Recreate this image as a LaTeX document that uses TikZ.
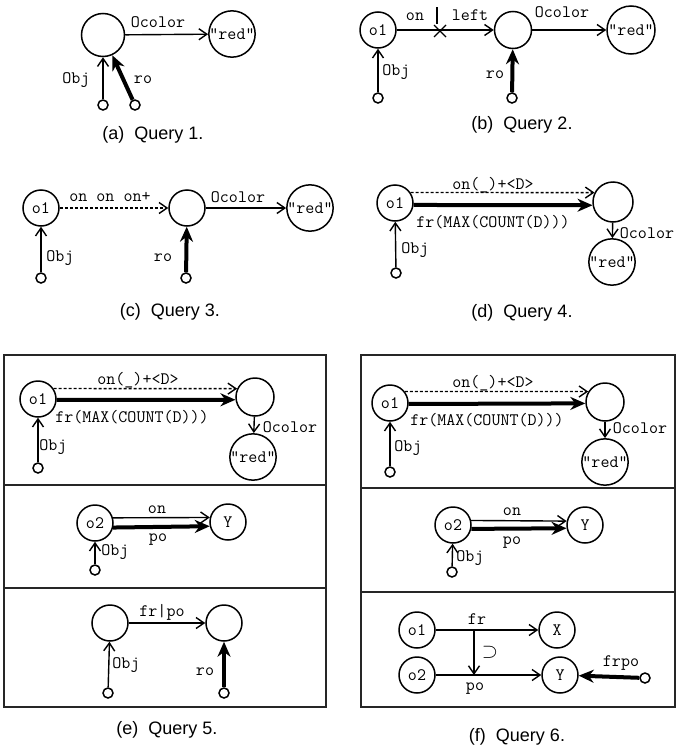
\documentclass[tikz,border=0pt]{standalone}
\usepackage{fontspec}
\setmainfont{Liberation Sans}
\usetikzlibrary{arrows.meta}

\begin{document}
\begin{tikzpicture}[x=1pt,y=-1pt,
  >={Straight Barb[length=8pt,width=11pt]},
  every node/.style={font=\fontsize{17.5}{17.5}\selectfont\ttfamily,inner sep=1pt},
  obj/.style={draw,circle,line width=1.5pt,minimum size=36pt,inner sep=0pt},
  val/.style={draw,circle,line width=1.5pt,minimum size=46pt,inner sep=0pt},
  dot/.style={draw,circle,line width=1.5pt,minimum size=10pt,inner sep=0pt},
  subcap/.style={font=\fontsize{18}{20}\selectfont\rmfamily},
  rel/.style={->,line width=1.4pt},
  trans/.style={->,line width=1.4pt,dashed,dash pattern=on 3pt off 2pt},
  heavy/.style={-{Stealth[length=15pt,width=13pt]},line width=4pt},
  frame/.style={line width=1.2pt,black!85}
]
\useasboundingbox (0,0) rectangle (679,747);

% (a)
\node[obj,minimum size=43pt] (ca) at (103,35) {};
\node[val] (reda) at (232,34) {"red"};
\node[dot] (sa1) at (103,105) {};
\node[dot] (sa2) at (135,105) {};
\draw[rel] (ca) -- (reda);
\draw[rel] (sa1) -- (ca);
\draw[heavy] (sa2) -- (ca);
\node (oca) at (158,22) {Ocolor};
\node (oba) at (76,80) {Obj};
\node (roa) at (143,80) {ro};
\node[subcap] (capa) at (153,135) {(a)~~Query 1.};

% (b)
\node[obj] (o1b) at (378,30) {o1};
\node[obj,minimum size=37pt] (mb) at (513,30) {};
\node[val,minimum size=48pt] (redb) at (631,30) {"red"};
\node[dot] (sb1) at (378,98) {};
\node[dot] (sb2) at (512,98) {};
\coordinate (xb) at (440,31);
\coordinate (tb1) at (437,7);
\coordinate (tb2) at (437,24);
\draw[rel] (o1b) -- (mb);
\draw[line width=1.3pt] (xb) +(-6,-6) -- +(6,6) (xb) +(-6,6) -- +(6,-6);
\draw[line width=1.1pt] (tb1) -- (tb2);
\draw[rel] (mb) -- (redb);
\draw[rel] (sb1) -- (o1b);
\draw[heavy] (sb2) -- (mb);
\node (onb) at (415,17) {on};
\node (lfb) at (470,15) {left};
\node (ocb) at (562,12) {Ocolor};
\node (obb) at (396,72) {Obj};
\node (rob) at (495,75) {ro};
\node[subcap] (capb) at (522,125) {(b)~~Query 2.};

% (c)
\node[obj] (o1c) at (41,208) {o1};
\node[obj] (mc) at (187,208) {};
\node[val] (redc) at (310,208) {"red"};
\node[dot] (sc1) at (41,278) {};
\node[dot] (sc2) at (186,278) {};
\draw[trans] (o1c) -- (mc);
\draw[rel] (mc) -- (redc);
\draw[rel] (sc1) -- (o1c);
\draw[heavy] (sc2) -- (mc);
\node (onc) at (110,197) {on on on+};
\node (occ) at (238,197) {Ocolor};
\node (obc) at (60,258) {Obj};
\node (roc) at (163,258) {ro};
\node[subcap] (capc) at (170,312) {(c)~~Query 3.};

% (d)
\node[obj] (o1d) at (395,203) {o1};
\node[obj,minimum size=40pt] (md) at (613,202) {};
\node[val,minimum size=44pt] (redd) at (612,262) {"red"};
\node[dot] (sd) at (396,273) {};
\draw[trans] (o1d.34) -- (md.153);
\draw[heavy] (o1d.-6) -- (md.189);
\draw[rel] (md) -- (redd);
\draw[rel] (sd) -- (o1d);
\node (ond) at (493,185) {on(\_)+<D>};
\node (frd) at (493,222) {fr(MAX(COUNT(D)))};
\node (ocd) at (647,233) {Ocolor};
\node (obd) at (415,250) {Obj};
\node[subcap] (capd) at (522,313) {(d)~~Query 4.};

% (e)
\draw[frame] (4,355) rectangle (326,707);
\draw[frame] (4,485) -- (326,485);
\draw[frame] (4,588) -- (326,588);
\node[obj] (o1e) at (38,399) {o1};
\node[obj,minimum size=38pt] (me) at (255,397) {};
\node[val,minimum size=44pt] (rede) at (253,457) {"red"};
\node[dot] (se1) at (38,468) {};
\draw[trans] (o1e.34) -- (me.155);
\draw[heavy] (o1e.-3) -- (me.188);
\draw[rel] (me) -- (rede);
\draw[rel] (se1) -- (o1e);
\node (one1) at (138,380) {on(\_)+<D>};
\node (fre1) at (132,417) {fr(MAX(COUNT(D)))};
\node (oce1) at (290,427) {Ocolor};
\node (obe1) at (53,447) {Obj};
\node[obj] (o2e) at (95,523) {o2};
\node[obj] (ye) at (228,522) {Y};
\node[dot] (se2) at (95,570) {};
\draw[rel] (o2e.16) -- (ye.166);
\draw[heavy] (o2e.-14) -- (ye.193);
\draw[rel] (se2) -- (o2e);
\node (one2) at (157,510) {on};
\node (poe2) at (158,540) {po};
\node (obe2) at (115,552) {Obj};
\node[obj] (le) at (110,623) {};
\node[obj] (re) at (224,623) {};
\node[dot] (se3) at (108,693) {};
\node[dot] (se4) at (224,693) {};
\draw[rel] (le) -- (re);
\draw[rel] (se3) -- (le);
\draw[heavy] (se4) -- (re);
\node (fpe3) at (162,612) {fr|po};
\node (obe3) at (126,665) {Obj};
\node (roe3) at (205,672) {ro};
\node[subcap] (cape) at (167,730) {(e)~~Query 5.};

% (f)
\draw[frame] (361,355) rectangle (675,707);
\draw[frame] (361,488) -- (675,488);
\draw[frame] (361,592) -- (675,592);
\node[obj] (o1f) at (390,403) {o1};
\node[obj,minimum size=38pt] (mf) at (605,402) {};
\node[val,minimum size=44pt] (redf) at (605,462) {"red"};
\node[dot] (sf1) at (390,472) {};
\draw[trans] (o1f.38) -- (mf.148);
\draw[heavy] (o1f.-3) -- (mf.184);
\draw[rel] (mf) -- (redf);
\draw[rel] (sf1) -- (o1f);
\node (onf1) at (493,383) {on(\_)+<D>};
\node (frf1) at (487,420) {fr(MAX(COUNT(D)))};
\node (ocf1) at (640,428) {Ocolor};
\node (obf1) at (408,448) {Obj};
\node[obj] (o2f) at (453,525) {o2};
\node[obj] (yf) at (585,525) {Y};
\node[dot] (sf2) at (452,572) {};
\draw[rel] (o2f.14) -- (yf.168);
\draw[heavy] (o2f.-12) -- (yf.190);
\draw[rel] (sf2) -- (o2f);
\node (onf2) at (512,512) {on};
\node (pof2) at (512,543) {po};
\node (obf2) at (470,558) {Obj};
\node[obj] (o1g) at (417,630) {o1};
\node[obj] (xg) at (557,630) {X};
\node[obj] (o2g) at (417,675) {o2};
\node[obj] (yg) at (560,675) {Y};
\node[dot] (sg) at (645,678) {};
\coordinate (frg) at (474,630);
\coordinate (pog) at (474,675);
\draw[rel] (o1g) -- (xg);
\draw[rel] (o2g) -- (yg);
\draw[rel] (frg) -- (pog);
\draw[heavy] (sg) -- (yg);
\node (frlg) at (477,619) {fr};
\node (polg) at (475,689) {po};
\node[font=\fontsize{22}{22}\selectfont] (supg) at (490,652) {$\supset$};
\node (fplg) at (621,663) {frpo};
\node[subcap] (capf) at (517,737) {(f)~~Query 6.};
\end{tikzpicture}
\end{document}
